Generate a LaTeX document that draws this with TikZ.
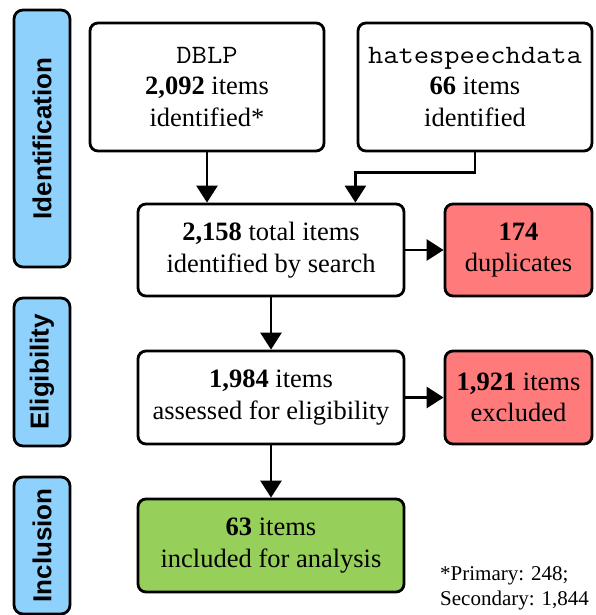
\documentclass[tikz,border=0pt]{standalone}
\usepackage{fontspec}
\setmainfont{Liberation Serif}
\setsansfont{Liberation Sans}
\newfontfamily\srcfont[FakeStretch=1.12]{Latin Modern Mono}
\usetikzlibrary{arrows.meta}
\definecolor{stageblue}{RGB}{142,209,252}
\definecolor{dropred}{RGB}{255,123,123}
\definecolor{keepgreen}{RGB}{151,207,91}
\tikzset{
  box/.style={draw,line width=2.8pt,rounded corners=8pt,align=center,
    font=\fontsize{26.5}{31.5}\selectfont,inner sep=0pt},
  stage/.style={draw,line width=2.8pt,rounded corners=9pt,fill=stageblue,rotate=90,
    minimum height=56pt,inner sep=0pt,font=\fontsize{26}{30}\sffamily\bfseries},
  arr/.style={line width=2.8pt,-{Triangle[length=17pt,width=21pt]}}
}
\begin{document}
\begin{tikzpicture}[x=1pt,y=-1pt]
  \useasboundingbox (0,0) rectangle (595,615);
  % stage labels
  \node[stage,minimum width=257pt] (idlbl) at (42,138.5) {Identification};
  \node[stage,minimum width=148pt] (eliglbl) at (42,372) {Eligibility};
  \node[stage,minimum width=137pt] (incllbl) at (42,545.5) {Inclusion};
  % sources
  \node[box,minimum width=234pt,minimum height=128pt] (dblp) at (207,87)
    {{\srcfont DBLP}\\\textbf{2,092} items\\identified*};
  \node[box,minimum width=234pt,minimum height=128pt] (hsd) at (475,87)
    {{\srcfont hatespeechdata}\\\textbf{66} items\\identified};
  % flow
  \node[box,minimum width=266pt,minimum height=92pt] (total) at (271,250)
    {\textbf{2,158} total items\\identified by search};
  \node[box,fill=dropred,minimum width=147pt,minimum height=92pt] (dup) at (518.5,250)
    {\textbf{174}\\duplicates};
  \node[box,minimum width=266pt,minimum height=93pt] (elig) at (271,397.5)
    {\textbf{1,984} items\\assessed for eligibility};
  \node[box,fill=dropred,minimum width=147pt,minimum height=93pt] (excl) at (518.5,397.5)
    {\textbf{1,921} items\\excluded};
  \node[box,fill=keepgreen,minimum width=266pt,minimum height=93pt] (incl) at (271,545.5)
    {\textbf{63} items\\included for analysis};
  \node[align=left,anchor=west,inner sep=0pt,font=\fontsize{21}{25}\selectfont] (note) at (440,588.5)
    {*Primary: 248;\\Secondary: 1,844};
  % arrows
  \draw[arr] (dblp.south) -- (dblp.south |- total.north);
  \draw[arr] (hsd.south) -- ++(0,20) -| ([xshift=-50pt]total.north east);
  \draw[arr] (total.east) -- (dup.west);
  \draw[arr] (total.south) -- (elig.north);
  \draw[arr] (elig.east) -- (excl.west);
  \draw[arr] (elig.south) -- (incl.north);
\end{tikzpicture}
\end{document}
